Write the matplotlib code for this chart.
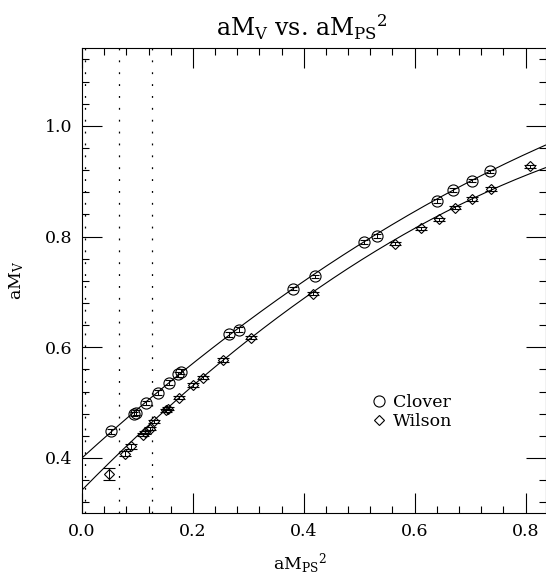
import matplotlib
matplotlib.use("Agg")
import matplotlib.pyplot as plt
from matplotlib.lines import Line2D
from matplotlib.ticker import MultipleLocator
import numpy as np

plt.rcParams['font.family'] = ['DejaVu Serif']
plt.rcParams['mathtext.fontset'] = 'dejavuserif'

# Datos Clover (circulos)
clover_x = np.array([0.053, 0.093, 0.097, 0.116, 0.137, 0.157, 0.173, 0.178, 0.266, 0.283,
                     0.381, 0.420, 0.509, 0.532, 0.640, 0.670, 0.704, 0.736])
clover_y = np.array([0.448, 0.479, 0.482, 0.499, 0.518, 0.536, 0.551, 0.556, 0.623, 0.632,
                     0.706, 0.728, 0.790, 0.801, 0.864, 0.884, 0.901, 0.918])
clover_err = np.array([0.005, 0.004, 0.004, 0.004, 0.004, 0.004, 0.004, 0.004, 0.004, 0.004,
                       0.003, 0.003, 0.003, 0.003, 0.003, 0.003, 0.003, 0.003])

# Datos Wilson (diamantes)
wilson_x = np.array([0.049, 0.078, 0.089, 0.110, 0.114, 0.123, 0.130, 0.151, 0.155, 0.175,
                     0.201, 0.219, 0.254, 0.305, 0.417, 0.565, 0.612, 0.644, 0.673, 0.704,
                     0.737, 0.808])
wilson_y = np.array([0.371, 0.408, 0.421, 0.442, 0.446, 0.453, 0.466, 0.486, 0.489, 0.509,
                     0.532, 0.545, 0.577, 0.617, 0.697, 0.787, 0.815, 0.831, 0.852, 0.868,
                     0.886, 0.927])
wilson_err = np.array([0.011, 0.004, 0.004, 0.003, 0.003, 0.003, 0.003, 0.003, 0.003, 0.003,
                       0.003, 0.003, 0.003, 0.003, 0.003, 0.003, 0.003, 0.003, 0.003, 0.003,
                       0.003, 0.003])

# Coeficientes de los ajustes (a + b x + c x^2)
clover_fit = [0.400, 0.910, -0.280]
wilson_fit = [0.342, 1.020, -0.387]

# Lineas verticales punteadas
vlines_x = [0.006, 0.066, 0.126]

xmin, xmax = 0.0, 0.836
ymin, ymax = 0.30, 1.14

fig = plt.figure(figsize=(5.46, 5.75), dpi=100)
ax = fig.add_axes([82/546, 1 - 513.3/575, 463.5/546, 465/575])

xs = np.linspace(xmin, xmax, 200)
ax.plot(xs, clover_fit[0] + clover_fit[1]*xs + clover_fit[2]*xs**2, color='black', lw=0.8)
ax.plot(xs, wilson_fit[0] + wilson_fit[1]*xs + wilson_fit[2]*xs**2, color='black', lw=0.8)

for xv in vlines_x:
    ax.axvline(xv, color='black', lw=0.9, linestyle=(0, (1.5, 8)))

ax.errorbar(clover_x, clover_y, yerr=clover_err, fmt='o', ms=8, mfc='none', mec='black',
            mew=0.8, ecolor='black', elinewidth=0.7, capsize=3, capthick=0.7)
ax.errorbar(wilson_x, wilson_y, yerr=wilson_err, fmt='D', ms=5, mfc='none', mec='black',
            mew=0.8, ecolor='black', elinewidth=0.7, capsize=4, capthick=0.7)

ax.set_xlim(xmin, xmax)
ax.set_ylim(ymin, ymax)
ax.xaxis.set_major_locator(MultipleLocator(0.2))
ax.xaxis.set_minor_locator(MultipleLocator(0.04))
ax.yaxis.set_major_locator(MultipleLocator(0.2))
ax.yaxis.set_minor_locator(MultipleLocator(0.04))
ax.xaxis.set_major_formatter(plt.FormatStrFormatter('%.1f'))
ax.yaxis.set_major_formatter(plt.FormatStrFormatter('%.1f'))
ax.tick_params(which='both', direction='in', top=True, right=True, width=0.8,
               labelsize=12.5, pad=7)
ax.tick_params(which='major', length=14.5)
ax.tick_params(which='minor', length=5)
for s in ax.spines.values():
    s.set_linewidth(0.8)

ax.set_title(r'aM$_{\rm V}$ vs. aM$_{\rm PS}$$^2$', fontsize=17, x=0.475, pad=9)
ax.set_xlabel(r'aM$_{\rm PS}$$^2$', fontsize=12.5)
ax.xaxis.set_label_coords(0.47, -0.083)
ax.set_ylabel(r'aM$_{\rm V}$', fontsize=12.5)
ax.yaxis.set_label_coords(-0.12, 0.5)

handles = [Line2D([], [], marker='o', ls='none', ms=8, mfc='none', mec='black', mew=0.8),
           Line2D([], [], marker='D', ls='none', ms=5, mfc='none', mec='black', mew=0.8)]
ax.legend(handles, ['Clover', 'Wilson'], loc='center left', bbox_to_anchor=(0.626, 0.218),
          frameon=False, fontsize=12.5, handlelength=0.8, handletextpad=0.4,
          labelspacing=0.15, borderpad=0, borderaxespad=0)

fig.savefig('out.png', dpi=100)
